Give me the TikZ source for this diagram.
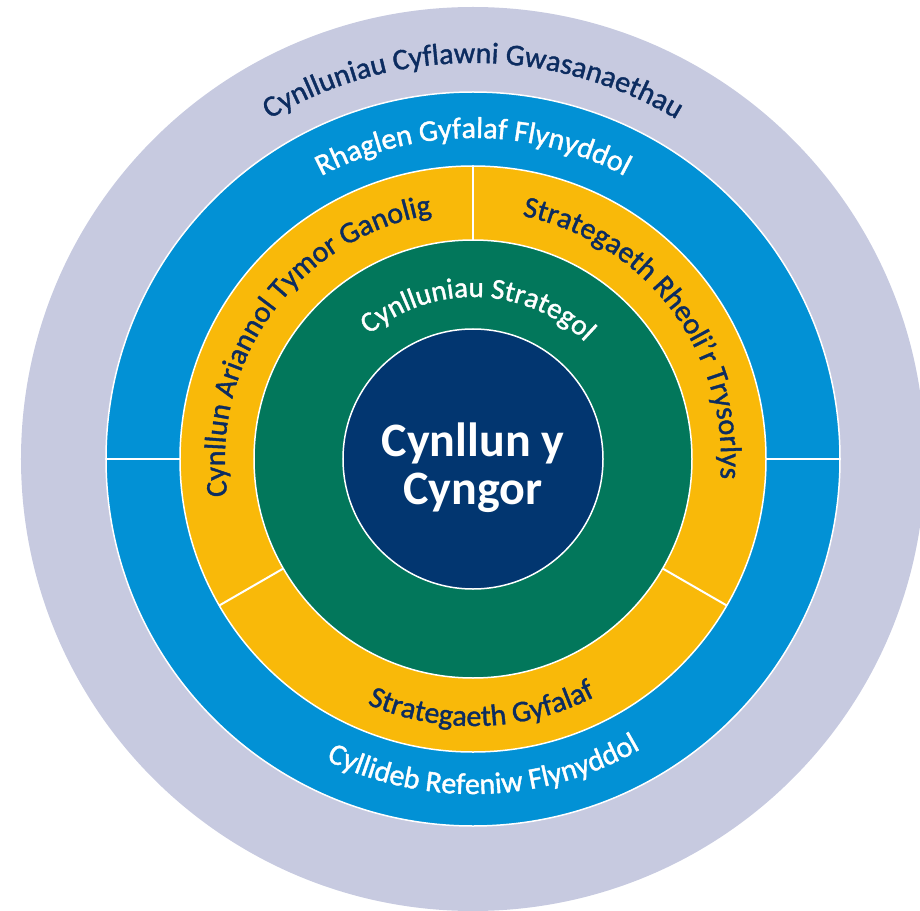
\documentclass[tikz,border=0pt]{standalone}
\usepackage{fontspec}
\setmainfont{Carlito}
\newfontfamily\ringfont[FakeBold=1.3]{Carlito}
\usetikzlibrary{decorations.text}

\definecolor{ringlav}{RGB}{199,202,224}
\definecolor{ringblue}{RGB}{2,145,213}
\definecolor{ringgold}{RGB}{249,185,9}
\definecolor{ringgreen}{RGB}{2,119,91}
\definecolor{corenavy}{RGB}{2,54,112}
\definecolor{labelnavy}{RGB}{12,44,96}

\tikzset{every picture/.style={line width=0.75pt}}

\begin{document}
\begin{tikzpicture}[x=1pt,y=1pt,
  ringedge/.style={draw=white,line width=1.5pt},
  divider/.style={draw=white,line width=2pt},
  ringtext/.style={decorate,decoration={text along path,text align=center,text color=#1}},
]
%set diagram frame: 920 wide, 910 high, centre of rings at (0,0)
\useasboundingbox (-473,-451) rectangle (447,459);
\clip (-473,-451) rectangle (447,459);

%Shape: Circle [outer ring]
\fill [ringlav] (0,0) circle (452);
%Shape: Circle [blue ring]
\draw [ringedge,fill=ringblue] (0,0) circle (367);
%Shape: Circle [gold ring]
\draw [ringedge,fill=ringgold] (0,0) circle (293);
%Shape: Circle [green ring]
\draw [ringedge,fill=ringgreen] (0,0) circle (219);
%Shape: Circle [core]
\draw [ringedge,fill=corenavy] (0,0) circle (130);

%Straight Lines [blue ring split]
\draw [divider] (0:293) -- (0:367);
\draw [divider] (180:293) -- (180:367);
%Straight Lines [gold ring split]
\draw [divider] (90:219) -- (90:293);
\draw [divider] (210:219) -- (210:293);
\draw [divider] (330:219) -- (330:293);

% Text Node
\node (council) [align=center,text=white,font=\fontsize{48}{48}\selectfont\bfseries] at (0,-9) {Cynllun y\\Cyngor};

% Text on arcs
\path [ringtext=labelnavy,decoration={text={|\ringfont\fontsize{30}{32}\selectfont|Cynlluniau Cyflawni Gwasanaethau}}]
  (150:396) arc [start angle=150,end angle=30,radius=396];
\path [ringtext=white,decoration={text={|\ringfont\fontsize{30}{32}\selectfont|Rhaglen Gyfalaf Flynyddol}}]
  (150:321) arc [start angle=150,end angle=30,radius=321];
\path [ringtext=labelnavy,decoration={text={|\ringfont\fontsize{30}{32}\selectfont|Cynllun Ariannol Tymor Ganolig}}]
  (214:248) arc [start angle=214,end angle=74,radius=248];
\path [ringtext=labelnavy,decoration={text={|\ringfont\fontsize{30}{32}\selectfont|Strategaeth Rheoli’r Trysorlys}}]
  (107:248) arc [start angle=107,end angle=-33,radius=248];
\path [ringtext=white,decoration={text={|\ringfont\fontsize{29}{31}\selectfont|Cynlluniau Strategol}}]
  (158:162) arc [start angle=158,end angle=18,radius=162];
\path [ringtext=labelnavy,decoration={text={|\ringfont\fontsize{30}{32}\selectfont|Strategaeth Gyfalaf}}]
  (212:267) arc [start angle=212,end angle=332,radius=267];
\path [ringtext=white,decoration={text={|\ringfont\fontsize{30}{32}\selectfont|Cyllideb Refeniw Flynyddol}}]
  (212:335) arc [start angle=212,end angle=332,radius=335];

\end{tikzpicture}
\end{document}
